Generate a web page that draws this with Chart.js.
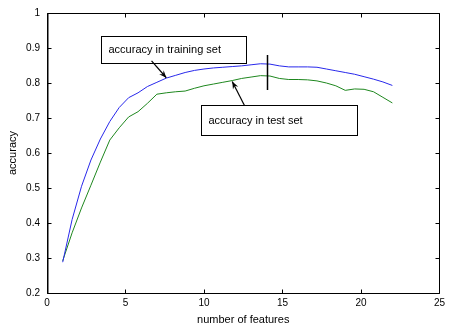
<!DOCTYPE html>
<html>
<head>
<meta charset="utf-8">
<script src="https://cdn.jsdelivr.net/npm/chart.js@4.4.1/dist/chart.umd.min.js"></script>
<style>
  html, body { margin: 0; padding: 0; background: #fff; }
  #wrap { width: 449px; height: 327px; }
</style>
</head>
<body>
<div id="wrap"><canvas id="chart" width="449" height="327"></canvas></div>
<script>
// number of features (x values)
const features = [1, 1.6, 2.2, 2.8, 3.4, 4, 4.6, 5.2, 5.8, 6.4, 7, 7.6, 8.2, 8.8, 9.4, 10,
  10.6, 11.2, 11.8, 12.4, 13, 13.6, 14.2, 14.8, 15.4, 16, 16.6, 17.2, 17.8, 18.4, 19,
  19.6, 20.2, 20.8, 21.4, 22];

const trainAcc = [0.288, 0.41, 0.505, 0.58, 0.64, 0.69, 0.73, 0.758, 0.772, 0.79, 0.802,
  0.814, 0.822, 0.83, 0.836, 0.84, 0.843, 0.845, 0.847, 0.849, 0.852, 0.855, 0.854,
  0.849, 0.846, 0.846, 0.846, 0.845, 0.84, 0.835, 0.83, 0.825, 0.818, 0.811, 0.803, 0.793];

const testAcc = [0.292, 0.372, 0.443, 0.508, 0.574, 0.637, 0.672, 0.703, 0.718, 0.742,
  0.768, 0.772, 0.775, 0.777, 0.785, 0.792, 0.797, 0.802, 0.807, 0.813, 0.817, 0.821,
  0.82, 0.813, 0.81, 0.81, 0.809, 0.806, 0.8, 0.792, 0.779, 0.783, 0.782, 0.775, 0.759, 0.743];

const xTicks = [0, 5, 10, 15, 20, 25];
const yTicks = [0.2, 0.3, 0.4, 0.5, 0.6, 0.7, 0.8, 0.9, 1];
const yTickLabels = ["0.2", "0.3", "0.4", "0.5", "0.6", "0.7", "0.8", "0.9", "1"];

// text boxes with arrows, in data units
const notes = [
  { text: "accuracy in training set", box: [3.44, 0.934, 12.67, 0.856], from: [6.66, 0.863], to: [7.6, 0.815] },
  { text: "accuracy in test set", box: [9.84, 0.736, 19.74, 0.651], from: [12.58, 0.736], to: [11.8, 0.804] }
];
// vertical marker at x = 14
const marker = { x: 14, y1: 0.78, y2: 0.88 };

const FONT = "Liberation Sans, Arial, sans-serif";

const toPoints = (ys) => features.map((x, i) => ({ x: x, y: ys[i] }));

// box, inward ticks and annotations (matlab style)
const matlabAxes = {
  id: "matlabAxes",
  afterDatasetsDraw(chart) {
    const ctx = chart.ctx;
    const a = chart.chartArea;
    const xs = chart.scales.x;
    const ys = chart.scales.y;
    const L = Math.round(a.left) + 0.5, R = Math.round(a.right) + 0.5;
    const T = Math.round(a.top) + 0.5, B = Math.round(a.bottom) + 0.5;
    ctx.save();
    ctx.lineWidth = 1;
    ctx.strokeStyle = "#000";
    ctx.beginPath();
    ctx.moveTo(L, T); ctx.lineTo(R, T); ctx.lineTo(R, B); ctx.lineTo(L, B); ctx.closePath();
    ctx.stroke();
    ctx.beginPath();
    ctx.moveTo(L + 0.5, T); ctx.lineTo(L + 0.5, B);
    ctx.stroke();

    const tl = 4;
    ctx.beginPath();
    xTicks.forEach((v) => {
      const px = Math.round(xs.getPixelForValue(v)) + 0.5;
      ctx.moveTo(px, B); ctx.lineTo(px, B - tl);
      ctx.moveTo(px, T); ctx.lineTo(px, T + tl);
    });
    yTicks.forEach((v) => {
      const py = Math.round(ys.getPixelForValue(v)) + 0.5;
      ctx.moveTo(L, py); ctx.lineTo(L + tl, py);
      ctx.moveTo(R, py); ctx.lineTo(R - tl, py);
    });
    ctx.stroke();

    // vertical marker
    const mx = Math.round(xs.getPixelForValue(marker.x)) + 0.5;
    ctx.lineWidth = 1.5;
    ctx.beginPath();
    ctx.moveTo(mx, ys.getPixelForValue(marker.y1));
    ctx.lineTo(mx, ys.getPixelForValue(marker.y2));
    ctx.stroke();

    notes.forEach((n) => {
      const x1 = Math.round(xs.getPixelForValue(n.box[0])) + 0.5;
      const y1 = Math.round(ys.getPixelForValue(n.box[1])) + 0.5;
      const x2 = Math.round(xs.getPixelForValue(n.box[2])) + 0.5;
      const y2 = Math.round(ys.getPixelForValue(n.box[3])) + 0.5;
      ctx.fillStyle = "#fff";
      ctx.fillRect(x1, y1, x2 - x1, y2 - y1);
      ctx.lineWidth = 1;
      ctx.strokeStyle = "#000";
      ctx.strokeRect(x1, y1, x2 - x1, y2 - y1);
      ctx.fillStyle = "#000";
      ctx.font = "11px " + FONT;
      ctx.textBaseline = "middle";
      ctx.textAlign = "left";
      ctx.fillText(n.text, x1 + 7, (y1 + y2) / 2);

      // arrow
      const fx = xs.getPixelForValue(n.from[0]), fy = ys.getPixelForValue(n.from[1]);
      const tx = xs.getPixelForValue(n.to[0]), ty = ys.getPixelForValue(n.to[1]);
      ctx.lineWidth = 1.2;
      ctx.beginPath();
      ctx.moveTo(fx, fy); ctx.lineTo(tx, ty);
      ctx.stroke();
      const ang = Math.atan2(ty - fy, tx - fx);
      const hl = 8, hw = 0.38;
      ctx.beginPath();
      ctx.moveTo(tx, ty);
      ctx.lineTo(tx - hl * Math.cos(ang - hw), ty - hl * Math.sin(ang - hw));
      ctx.lineTo(tx - hl * 0.6 * Math.cos(ang), ty - hl * 0.6 * Math.sin(ang));
      ctx.lineTo(tx - hl * Math.cos(ang + hw), ty - hl * Math.sin(ang + hw));
      ctx.closePath();
      ctx.fill();
    });
    ctx.restore();
  }
};

const config = {
  type: "line",
  data: {
    datasets: [
      {
        label: "accuracy in training set",
        data: toPoints(trainAcc),
        borderColor: "rgb(40,40,235)",
        borderWidth: 1,
        pointRadius: 0,
        tension: 0,
      },
      {
        label: "accuracy in test set",
        data: toPoints(testAcc),
        borderColor: "rgb(30,135,30)",
        borderWidth: 1,
        pointRadius: 0,
        tension: 0,
      },
    ],
  },
  options: {
    responsive: false,
    animation: false,
    events: [],
    layout: { padding: { top: 9, right: 5, left: 0, bottom: 0 } },
    plugins: { legend: { display: false }, tooltip: { enabled: false } },
    scales: {
      x: {
        type: "linear",
        min: 0,
        max: 25,
        afterBuildTicks: (s) => { s.ticks = xTicks.map((v) => ({ value: v })); },
        afterFit: (s) => { s.height = 34; },
        grid: { display: false, drawTicks: false },
        border: { display: false },
        ticks: { color: "#000", font: { family: FONT, size: 10 }, padding: 4, maxRotation: 0 },
        title: { display: true, text: "number of features", color: "#000", font: { family: FONT, size: 11 }, padding: { top: 0, bottom: 0 } },
      },
      y: {
        min: 0.2,
        max: 1,
        afterBuildTicks: (s) => { s.ticks = yTicks.map((v) => ({ value: v })); },
        afterFit: (s) => { s.width = 47; },
        grid: { display: false, drawTicks: false },
        border: { display: false },
        ticks: {
          color: "#000",
          font: { family: FONT, size: 10 },
          padding: 7,
          callback: (v, i) => yTickLabels[i],
        },
        title: { display: true, text: "accuracy", color: "#000", font: { family: FONT, size: 11 }, padding: { top: 6, bottom: 0 } },
      },
    },
  },
  plugins: [matlabAxes],
};

let chart = new Chart(document.getElementById("chart"), config);
</script>
</body>
</html>
